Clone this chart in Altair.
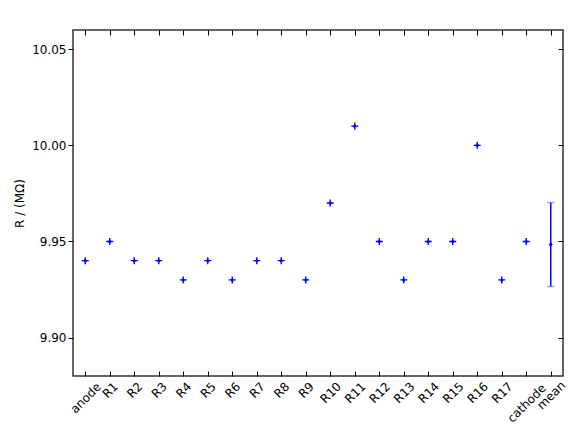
import altair as alt
import pandas as pd

names = ["anode", "R1", "R2", "R3", "R4", "R5", "R6", "R7", "R8", "R9", "R10",
         "R11", "R12", "R13", "R14", "R15", "R16", "R17", "cathode"]
values = [9.94, 9.95, 9.94, 9.94, 9.93, 9.94, 9.93, 9.94, 9.94, 9.93, 9.97,
          10.01, 9.95, 9.93, 9.95, 9.95, 10.00, 9.93, 9.95]
mean_label = "mean"
mean_value = 9.9484
mean_err = 0.0218
order = names + [mean_label]
yticks = [9.90, 9.95, 10.00, 10.05]

df = pd.DataFrame({"name": names, "R": values})
dm = pd.DataFrame({"name": [mean_label], "R": [mean_value],
                   "lo": [mean_value - mean_err], "hi": [mean_value + mean_err]})

FONT = "DejaVu Sans"
xscale = alt.Scale(type="point", domain=order, padding=0.5)
yscale = alt.Scale(domain=[9.88, 10.06], nice=False, zero=False)
blue = "#0000ff"
TICK = "#000000"

plus_path = "M-1,0H1M0,-1V1"

label_pad = {"condition": {"test": "true", "expr": "8.5 + 2.6 * length(datum.label)"}, "value": 10}

pts = alt.Chart(df).mark_point(shape=plus_path, stroke=blue, strokeWidth=1.4, size=49,
                               filled=False, opacity=1).encode(
    x=alt.X("name:N", scale=xscale, sort=order,
            axis=alt.Axis(orient="bottom", title=None, labelAngle=-45, labelAlign="center",
                          labelBaseline="middle", ticks=False, domain=False,
                          labelFontSize=12, labelFont=FONT, labelColor="black",
                          labelPadding=label_pad, grid=False)),
    y=alt.Y("R:Q", scale=yscale,
            axis=alt.Axis(orient="left", title="R / (MΩ)", values=yticks, format=".2f",
                          tickSize=5, tickColor=TICK, domain=False, grid=False,
                          labelFontSize=12, labelFont=FONT, labelColor="black", labelPadding=2,
                          titleFont=FONT, titleFontSize=12, titleFontWeight="normal", titleColor="black",
                          titlePadding=5)),
)

dots = alt.Chart(df).mark_circle(color=blue, size=9, opacity=1).encode(
    x=alt.X("name:N", scale=xscale, sort=order, axis=None),
    y=alt.Y("R:Q", scale=yscale, axis=None),
)

rule = alt.Chart(dm).mark_rule(color=blue, strokeWidth=1.5).encode(
    x=alt.X("name:N", scale=xscale, sort=order,
            axis=alt.Axis(orient="bottom", offset=-5, tickSize=5, tickWidth=1, labels=False,
                          domain=False, title=None, tickColor=TICK, grid=False)),
    y=alt.Y("lo:Q", scale=yscale,
            axis=alt.Axis(orient="right", offset=-5, tickSize=5, tickWidth=1, labels=False,
                          domain=False, title=None, values=yticks, tickColor=TICK, grid=False)),
    y2="hi:Q",
)

caps_lo = alt.Chart(dm).mark_tick(color="#6f6fff", thickness=1.5, size=7, orient="horizontal").encode(
    x=alt.X("name:N", scale=xscale, sort=order,
            axis=alt.Axis(orient="top", offset=-5, tickSize=5, tickWidth=1, labels=False,
                          domain=False, title=None, tickColor=TICK, grid=False)),
    y=alt.Y("lo:Q", scale=yscale, axis=None),
)
caps_hi = alt.Chart(dm).mark_tick(color="#6f6fff", thickness=1.5, size=7, orient="horizontal").encode(
    x=alt.X("name:N", scale=xscale, sort=order, axis=None),
    y=alt.Y("hi:Q", scale=yscale, axis=None),
)
mean_pt = alt.Chart(dm).mark_circle(color=blue, size=12, opacity=1).encode(
    x=alt.X("name:N", scale=xscale, sort=order, axis=None),
    y=alt.Y("R:Q", scale=yscale, axis=None),
)

chart = alt.layer(pts, dots, rule, caps_lo, caps_hi, mean_pt).resolve_axis(
    x="independent", y="independent"
).properties(
    width=490, height=346,
    padding={"left": 5, "top": 21, "right": 5, "bottom": 5},
    background="white",
).configure_view(
    stroke="#333333", strokeWidth=1.5
)

chart.save("out.html", embed_options={"renderer": "svg", "actions": False})
